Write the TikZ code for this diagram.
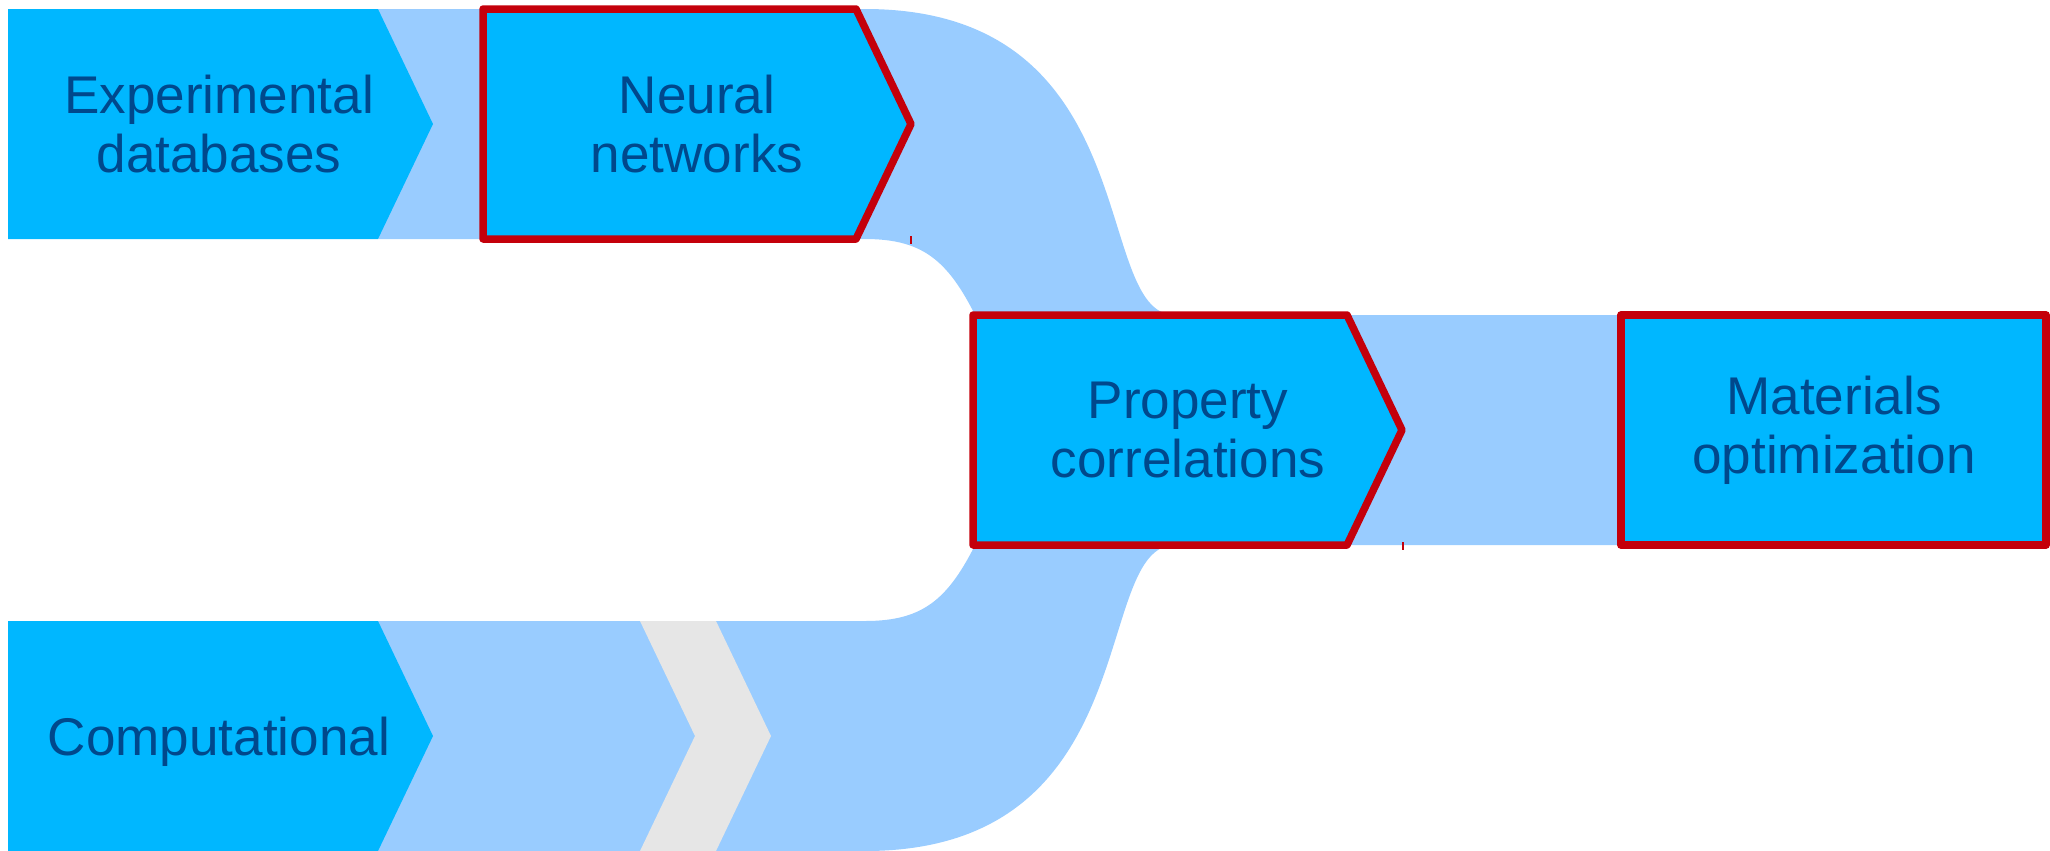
\documentclass[tikz,border=0pt]{standalone}
\usepackage{fontspec}
\setmainfont{Liberation Sans}
\usetikzlibrary{math}
\definecolor{bandblue}{HTML}{99CCFF}
\definecolor{boxblue}{HTML}{00B7FF}
\definecolor{textblue}{HTML}{00488C}
\definecolor{framered}{HTML}{C4000B}
\definecolor{chevgray}{HTML}{E6E6E6}
\tikzset{
    stage/.style={fill=boxblue},
    stage-framed/.style={fill=boxblue, draw=framered, line width=0.75mm, line join=round},
    stagetext/.style={text=textblue, align=center, inner sep=0pt,
        font=\fontsize{15.1}{16.8}\selectfont},
}

\begin{document}
\begin{tikzpicture}[
    x=0.1mm, y=-0.1mm,
  ]

  \tikzmath{
    \tip = 55; % depth of the point of a chevron
  }

  \useasboundingbox (0,0) rectangle (2050,850);

  % ---------------------------
  % Flow band behind the stages
  % ---------------------------
  \fill[bandblue] (378,9) -- (865,9) .. controls (1150,9) and (1090,315) .. (1175,315)
    -- (1625,315) -- (1625,545) -- (1175,545)
    .. controls (1090,545) and (1150,851) .. (865,851) -- (378,851) -- (378,621) -- (865,621)
    .. controls (925,621) and (950,598) .. (980,535) -- (980,325)
    .. controls (950,262) and (925,239) .. (865,239) -- (378,239) -- cycle;

  % grey chevron in the lower band
  \fill[chevgray] (640,621) -- (716,621) -- (716+\tip,736) -- (716,851)
    -- (640,851) -- (640+\tip,736) -- cycle;

  % ------
  % Stages
  % ------

  % the two sources
  \fill[stage] (8,9) -- (378,9) -- (378+\tip,124) -- (378,239) -- (8,239) -- cycle;
  \fill[stage] (8,621) -- (378,621) -- (378+\tip,736) -- (378,851) -- (8,851) -- cycle;

  % framed stages
  \draw[stage-framed] (483,9) -- (856,9) -- (856+\tip,124) -- (856,239) -- (483,239) -- cycle;
  \draw[stage-framed] (973,315) -- (1347,315) -- (1347+\tip,430) -- (1347,545) -- (973,545) -- cycle;
  \draw[stage-framed] (1621,315) -- (2046,315) -- (2046,545) -- (1621,545) -- cycle;

  % small marks under the points
  \draw[framered, line width=0.15mm] (911,236) -- (911,244);
  \draw[framered, line width=0.15mm] (1403,542) -- (1403,550);

  % Labels
  \node[stagetext] (expdb) at (219,124) {Experimental\\databases};
  \node[stagetext, anchor=base] (comp) at (219,755) {Computational};
  \node[stagetext] (neural) at (697,124) {Neural\\networks};
  \node[stagetext] (propcorr) at (1188,430) {Property\\correlations};
  \node[stagetext] (matopt) at (1834,430) {Materials\\optimization};

\end{tikzpicture}
\end{document}
